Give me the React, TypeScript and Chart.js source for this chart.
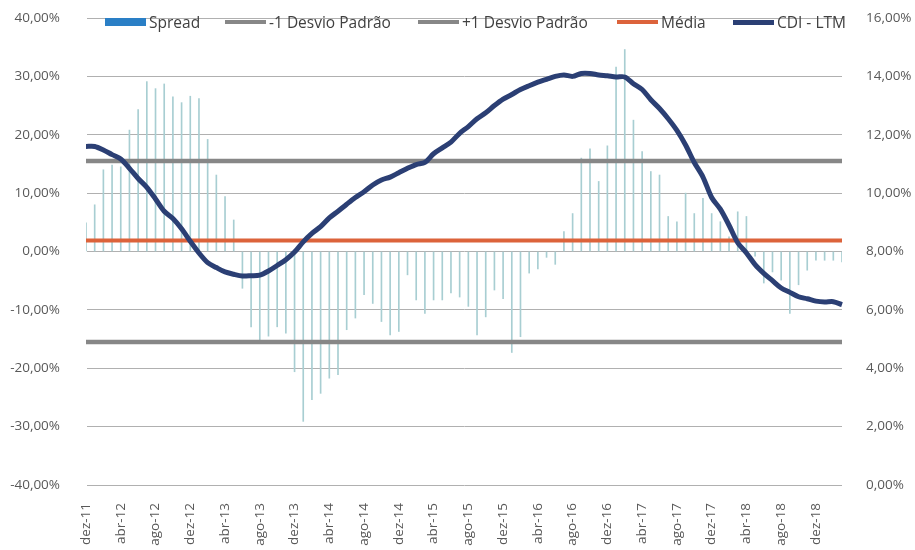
import React, { useEffect, useRef } from "react";
import { Chart, registerables } from "chart.js";

Chart.register(...registerables);

// Monthly labels from dez-11 to mar-19
const MESES = ["jan", "fev", "mar", "abr", "mai", "jun", "jul", "ago", "set", "out", "nov", "dez"];
const MONTHS: string[] = [];
for (let k = 0; k < 88; k++) {
  const m = (11 + k) % 12;
  const y = 11 + Math.floor((11 + k) / 12);
  MONTHS.push(`${MESES[m]}-${y}`);
}

// Spread (%), left axis
const SPREAD = [
  4.9, 8.0, 14.0, 14.8, 14.5, 20.8, 24.3, 29.1, 27.9, 28.7,
  26.5, 25.5, 26.6, 26.2, 19.2, 13.1, 9.4, 5.4, -6.3, -12.9,
  -15.2, -14.5, -12.9, -14.0, -20.6, -29.1, -25.4, -24.3, -21.7, -21.1,
  -13.4, -11.4, -7.4, -8.9, -12.0, -14.3, -13.7, -4.0, -8.3, -10.6,
  -8.3, -8.3, -7.1, -7.8, -9.4, -14.3, -11.2, -6.6, -8.1, -17.3,
  -14.6, -3.7, -3.0, -1.0, -2.2, 3.4, 6.5, 16.0, 17.6, 12.0,
  18.1, 31.6, 34.6, 22.5, 17.1, 13.7, 13.1, 6.0, 5.1, 10.0,
  6.5, 9.1, 6.5, 5.1, 2.5, 6.8, 6.0, -0.8, -5.4, -3.5,
  -4.9, -10.6, -5.7, -3.2, -1.5, -1.5, -1.5, -1.8,
];

// CDI accumulated over the last twelve months (%), right axis
const CDI_LTM = [
  11.6, 11.6, 11.48, 11.32, 11.17, 10.85, 10.5, 10.2, 9.8, 9.38,
  9.13, 8.78, 8.35, 7.95, 7.62, 7.45, 7.3, 7.22, 7.16, 7.17,
  7.19, 7.33, 7.52, 7.72, 7.98, 8.33, 8.62, 8.85, 9.15, 9.38,
  9.62, 9.85, 10.05, 10.28, 10.45, 10.55, 10.7, 10.85, 10.98, 11.05,
  11.35, 11.55, 11.75, 12.05, 12.28, 12.55, 12.75, 13.0, 13.22, 13.38,
  13.55, 13.68, 13.8, 13.9, 14.0, 14.05, 14.0, 14.1, 14.1, 14.05,
  14.02, 13.98, 13.98, 13.75, 13.55, 13.2, 12.9, 12.55, 12.15, 11.65,
  11.05, 10.55, 9.85, 9.45, 8.9, 8.3, 7.95, 7.55, 7.25, 7.0,
  6.75, 6.6, 6.45, 6.38, 6.3, 6.27, 6.28, 6.18,
];

// Reference levels of the spread (%)
const MEDIA = 1.9;
const DESVIO_SUP = 15.5;
const DESVIO_INF = -15.5;

const FONT = "'Open Sans', 'Noto Sans', sans-serif";
const TEXT = "#595959";
const TICK_SIZE = 13.5;

const COLORS = {
  spread: "#a8ced2",
  spreadLegend: "#2a7fc6",
  desvio: "#878787",
  media: "#dc633b",
  cdi: "#2b3f74",
  grid: "#b0b0b0",
  none: "rgba(0,0,0,0)",
};

const LEGEND = [
  { label: "Spread", color: COLORS.spreadLegend, h: 8, left: 105 },
  { label: "-1 Desvio Padrão", color: COLORS.desvio, h: 4, left: 225 },
  { label: "+1 Desvio Padrão", color: COLORS.desvio, h: 4, left: 418 },
  { label: "Média", color: COLORS.media, h: 4, left: 617 },
  { label: "CDI - LTM", color: COLORS.cdi, h: 5, left: 733 },
];

const pct = (v: number) => v.toFixed(2).replace(".", ",") + "%";

// Keep the plot area edge independent of the tick-label padding
const trimPadding = (s: any) => {
  s.paddingTop = 9;
  s.paddingBottom = 9;
};

export default function App() {
  const canvasRef = useRef<HTMLCanvasElement | null>(null);

  useEffect(() => {
    document.body.style.margin = "0";
    const ctx = canvasRef.current;
    if (!ctx) return;
    const chart = new Chart(ctx, {
      type: "bar",
      data: {
        labels: MONTHS,
        datasets: [
          {
            type: "line",
            label: "CDI - LTM",
            data: CDI_LTM,
            yAxisID: "y2",
            borderColor: COLORS.cdi,
            borderWidth: 5,
            pointRadius: 0,
            tension: 0.3,
            fill: false,
            order: 0,
          },
          {
            type: "line",
            label: "Média",
            data: MONTHS.map(() => MEDIA),
            yAxisID: "y",
            borderColor: COLORS.media,
            borderWidth: 4,
            pointRadius: 0,
            fill: false,
            order: 1,
          },
          {
            type: "line",
            label: "+1 Desvio Padrão",
            data: MONTHS.map(() => DESVIO_SUP),
            yAxisID: "y",
            borderColor: COLORS.desvio,
            borderWidth: 4.5,
            pointRadius: 0,
            fill: false,
            order: 2,
          },
          {
            type: "line",
            label: "-1 Desvio Padrão",
            data: MONTHS.map(() => DESVIO_INF),
            yAxisID: "y",
            borderColor: COLORS.desvio,
            borderWidth: 4.5,
            pointRadius: 0,
            fill: false,
            order: 3,
          },
          {
            type: "bar",
            label: "Spread",
            data: SPREAD,
            yAxisID: "y",
            backgroundColor: COLORS.spread,
            barThickness: 1,
            order: 5,
          },
        ],
      } as any,
      options: {
        animation: false,
        responsive: true,
        maintainAspectRatio: false,
        layout: { padding: { top: 18, left: 0, right: 0, bottom: 0 } },
        plugins: {
          legend: { display: false },
          tooltip: { enabled: false },
        },
        scales: {
          x: {
            offset: false,
            grid: { display: false },
            border: { display: false },
            ticks: {
              autoSkip: false,
              minRotation: 90,
              maxRotation: 90,
              padding: 10,
              color: TEXT,
              font: { family: FONT, size: TICK_SIZE },
              callback: (_v: any, i: number) => (i % 4 === 0 ? MONTHS[i] : ""),
            },
            afterFit: (s: any) => {
              s.height = 65;
            },
          },
          y: {
            type: "linear",
            position: "left",
            min: -40,
            max: 40,
            grid: { color: COLORS.grid, lineWidth: 1, tickColor: COLORS.none },
            border: { color: COLORS.none },
            ticks: {
              stepSize: 10,
              padding: 18,
              color: TEXT,
              font: { family: FONT, size: TICK_SIZE },
              callback: (v: any) => pct(Number(v)),
            },
            afterFit: (s: any) => {
              s.width = 86;
              trimPadding(s);
            },
          },
          y2: {
            type: "linear",
            position: "right",
            min: 0,
            max: 16,
            grid: { display: false },
            border: { display: false },
            ticks: {
              stepSize: 2,
              padding: 16,
              color: TEXT,
              font: { family: FONT, size: TICK_SIZE },
              callback: (v: any) => pct(Number(v)),
            },
            afterFit: (s: any) => {
              s.width = 73;
              trimPadding(s);
            },
          },
        },
      } as any,
    });
    return () => chart.destroy();
  }, []);

  return (
    <div style={{ position: "relative", width: 915, height: 550, background: "#fff" }}>
      <canvas ref={canvasRef} />
      {LEGEND.map((item) => (
        <div
          key={item.label}
          style={{
            position: "absolute",
            top: 12,
            left: item.left,
            height: 20,
            display: "flex",
            alignItems: "center",
            fontFamily: FONT,
            fontSize: 15.5,
            color: "#404040",
            whiteSpace: "nowrap",
          }}
        >
          <span
            style={{
              display: "inline-block",
              width: 41,
              height: item.h,
              background: item.color,
              marginRight: 3,
            }}
          />
          <span>{item.label}</span>
        </div>
      ))}
    </div>
  );
}
